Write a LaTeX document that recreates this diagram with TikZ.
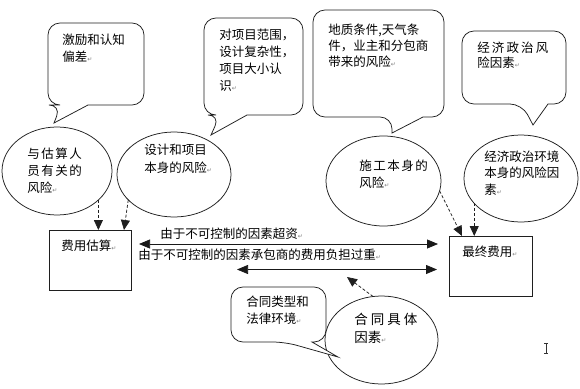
\documentclass[tikz,border=0pt]{standalone}
\usepackage{fontspec}
\setmainfont{Noto Sans CJK SC}
\newfontfamily\dejavu{DejaVu Sans}
\usetikzlibrary{arrows.meta,shapes.geometric,calc}
\newcommand\pmk{{\dejavu\fontsize{6}{6}\selectfont\color{gray}↵}}
\newcommand\lsa{\hspace{1.5pt}}
\newcommand\lsb{\hspace{2.1pt}}
\newcommand\lsc{\hspace{3pt}}
\begin{document}
\begin{tikzpicture}[x=1pt,y=-1pt,
  line width=0.75pt,
  callout/.style={draw=black!88,fill=white},
  oval/.style={ellipse,draw=black!88,fill=white,inner sep=0pt,outer sep=0pt},
  costbox/.style={rectangle,draw=black!88,inner sep=0pt,outer sep=0pt},
  txt/.style={anchor=north west,inner sep=0pt,align=left,text=black,font=\fontsize{12.5}{17}\selectfont},
  dasharrow/.style={draw=black!88,dash pattern=on 3pt off 2pt,-{Triangle[length=10pt,width=9pt]}},
  biarrow/.style={draw=black!90,{Triangle[length=11pt,width=9pt]}-{Triangle[length=11pt,width=9pt]}}]
\useasboundingbox[fill=white] (0,0) rectangle (580,388);

% top callouts
\draw[callout] (88,105) [rounded corners=12pt] -- (144,105) -- (144,23) -- (48,23) -- (48,105) -- (61,105) [sharp corners] -- (54,123) -- cycle;
\draw[callout] (247,115) [rounded corners=12pt] -- (303,115) -- (303,18) -- (204,18) -- (204,115) -- (220,115) [sharp corners] -- (211,135) -- cycle;
\draw[callout] (423,117) [rounded corners=12pt] -- (444,117) -- (444,10) -- (313,10) -- (313,117) -- (392,117) [sharp corners] -- (392,133) -- cycle;
\draw[callout] (548,104) [rounded corners=12pt] -- (566,104) -- (566,31) -- (462,31) -- (462,104) -- (522,104) [sharp corners] -- (533,125) -- cycle;

% ellipses
\node[oval,minimum width=110pt,minimum height=88pt] (e1) at (57,171) {};
\node[oval,minimum width=114pt,minimum height=85pt] (e2) at (174,174.5) {};
\node[oval,minimum width=115pt,minimum height=90pt] (e3) at (383.5,181) {};
\node[oval,minimum width=114pt,minimum height=87pt] (e4) at (521,178.5) {};
\node[oval,minimum width=113pt,minimum height=88pt] (e5) at (381.5,340) {};

% bottom callout
\draw[callout] (312,342) [rounded corners=12pt] -- (326,342) -- (326,287) -- (231,287) -- (231,342) -- (285,342) [sharp corners] -- (338,357) -- cycle;

% boxes
\node[costbox,minimum width=82pt,minimum height=60pt] (b1) at (90,260) {};
\node[costbox,minimum width=83pt,minimum height=60pt] (b2) at (490.5,266) {};

% texts
\node[txt] (t1) at (62,33.5) {激励和认知\\偏差\pmk};
\node[txt] (t2) at (219,28.5) {对项目范围，\\设计复杂性，\\项目大小认\\识\pmk};
\node[txt,font=\fontsize{12.5}{16}\selectfont] (t3) at (328,23.5) {地质条件,天气条\\件，业主和分包商\\带来的风险\pmk};
\node[txt,font=\fontsize{12.5}{15.5}\selectfont] (t4) at (477,41.5) {经\lsb 济\lsb 政\lsb 治\lsb 风\\险因素\pmk};
\node[txt] (t5) at (27,147.5) {与\lsa 估\lsa 算\lsa 人\\员\lsa 有\lsa 关\lsa 的\\风险\pmk};
\node[txt,font=\fontsize{12.5}{18}\selectfont] (t6) at (144,143.5) {设计和项目\\本身的风险\pmk};
\node[txt] (t7) at (359,159.5) {施\lsa 工\lsa 本\lsa 身\lsa 的\\风险\pmk};
\node[txt,font=\fontsize{12.5}{16.5}\selectfont] (t8) at (484,150.5) {经济政治环境\\本身的风险因\\素\pmk};
\node[txt] (t9) at (61,239.5) {费用估算\pmk};
\node[txt] (t10) at (462,245.5) {最终费用\pmk};
\node[txt] (t11) at (160,227.5) {由于不可控制的因素超资\pmk};
\node[txt] (t12) at (138,248.5) {由于不可控制的因素承包商的费用负担过重\pmk};
\node[txt] (t13) at (246,295.5) {合同类型和\\法律环境\pmk};
\node[txt,font=\fontsize{13.5}{18}\selectfont] (t14) at (354,313) {合\lsc 同\lsc 具\lsc 体\\因素\pmk};

% dashed connectors
\draw[dasharrow] (e1.-35) -- (e1.-35 |- b1.north);
\draw[dasharrow] (e2.-151) -- ([xshift=75pt]b1.north west);
\draw[dasharrow] (e3.-10) -- ([xshift=13pt]b2.north west);
\draw[dasharrow] (e4.-152) -- (e4.-152 |- b2.north);
\coordinate (m2) at (347,277);
\draw[dasharrow] (e5.101) -- (m2);

% horizontal connectors
\draw[biarrow] ($(b1.east)+(8,-16)$) -- ($(b2.west)+(-11,-22)$);
\coordinate (a2l) at (237,269.5);
\draw[biarrow] (a2l) -- ($(b2.west)+(-12,3.5)$);

% text cursor
\draw[draw=black!80,line width=0.8pt] (544,343) -- (548,343) (546,343) -- (546,353) (544,353) -- (548,353);
\end{tikzpicture}
\end{document}
